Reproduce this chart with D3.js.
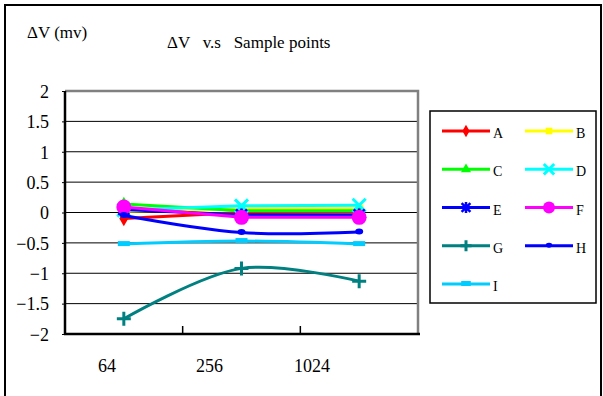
<!DOCTYPE html>
<html>
<head>
<meta charset="utf-8">
<script src="https://cdn.jsdelivr.net/npm/d3@7"></script>
<style>
  body { margin: 0; background: #fff; }
</style>
</head>
<body>
<svg id="canvas"></svg>
<script>
// data
let categories = ['64', '256', '1024']
let seriesNames = ['A', 'B', 'C', 'D', 'E', 'F', 'G', 'H', 'I']
let valA = [-0.10, 0.00, 0.01]
let valB = [0.02, 0.06, 0.06]
let valC = [0.14, 0.03, 0.03]
let valD = [0.04, 0.11, 0.12]
let valE = [0.05, -0.04, -0.04]
let valF = [0.09, -0.08, -0.08]
let valG = [-1.75, -0.92, -1.13]
let valH = [-0.05, -0.33, -0.32]
let valI = [-0.52, -0.47, -0.52]
let yTicks = [-2, -1.5, -1, -0.5, 0, 0.5, 1, 1.5, 2]

let allValues = [valA, valB, valC, valD, valE, valF, valG, valH, valI]
let colors = ['#ff0000', '#ffff00', '#00ff00', '#00ffff', '#0000ff', '#ff00ff', '#008080', '#0000ff', '#00ccff']
let markers = ['diamond', 'square', 'triangle', 'x', 'star', 'circle', 'plus', 'dot', 'dash']
let smooth = [false, false, false, false, false, false, true, true, true]

let serif = '"Liberation Serif", "Times New Roman", serif'
let width = 603
let height = 396
let plot = { left: 65, right: 418, top: 91, bottom: 334 }

let svg = d3.select('#canvas').attr('width', width).attr('height', height)
    .attr('font-family', serif)

// outer chart border
svg.append('rect')
    .attr('x', 5).attr('y', 5)
    .attr('width', 596).attr('height', 400)
    .attr('fill', 'none').attr('stroke', '#000').attr('stroke-width', 2)

let x = d3.scaleBand().domain(categories).range([plot.left, plot.right])
let xc = (c) => x(c) + x.bandwidth() / 2
let labelX = d3.scalePoint().domain(categories).range([107, 312])
let y = d3.scaleLinear().domain([-2, 2]).range([plot.bottom, plot.top])

// gridlines
svg.append('g')
    .selectAll('line')
    .data(yTicks.filter(d => d > -2 && d < 2))
    .enter()
    .append('line')
    .attr('x1', plot.left).attr('x2', plot.right)
    .attr('y1', d => y(d)).attr('y2', d => y(d))
    .attr('stroke', '#000').attr('stroke-width', 1)

// plot frame, grey top and right
svg.append('path')
    .attr('d', `M${plot.left},${plot.top}H${plot.right}V${plot.bottom}`)
    .attr('fill', 'none').attr('stroke', '#808080').attr('stroke-width', 2.5)

// y axis
let yAxis = svg.append('g')
    .attr('transform', `translate(${plot.left},0)`)
    .call(d3.axisLeft(y).tickValues(yTicks).tickSize(3).tickFormat(d3.format('')))
yAxis.attr('font-family', serif).attr('font-size', 18)
yAxis.select('.domain').attr('stroke', '#000').attr('stroke-width', 2.5)
    .attr('d', `M0,${plot.top}V${plot.bottom}`)
yAxis.selectAll('text')
    .attr('x', -16).attr('dy', '0.35em')
    .attr('fill', '#000')

// x axis, ticks between categories pointing up
let xAxis = svg.append('g').attr('transform', `translate(0,${plot.bottom})`)
xAxis.append('line')
    .attr('x1', plot.left - 1).attr('x2', plot.right + 2)
    .attr('y1', 0).attr('y2', 0)
    .attr('stroke', '#000').attr('stroke-width', 2.5)
xAxis.selectAll('.tk')
    .data(categories.slice(1))
    .enter()
    .append('line')
    .attr('x1', d => x(d)).attr('x2', d => x(d))
    .attr('y1', 0).attr('y2', -8)
    .attr('stroke', '#000').attr('stroke-width', 1.5)

svg.append('g')
    .selectAll('text')
    .data(categories)
    .enter()
    .append('text')
    .attr('x', d => labelX(d))
    .attr('y', 372)
    .attr('text-anchor', 'middle')
    .attr('font-size', 18)
    .text(d => d)

// titles
svg.append('text').attr('x', 27).attr('y', 38).attr('font-size', 17).text('ΔV (mv)')
svg.append('text').attr('x', 167).attr('y', 48).attr('font-size', 17)
    .attr('xml:space', 'preserve').style('white-space', 'pre')
    .text('ΔV   v.s   Sample points')

// marker drawing
let drawMarker = (g, type, color, s) => {
    if (type === 'diamond') {
        g.append('path').attr('d', d3.symbol(d3.symbolDiamond, 70 * s * s)).attr('fill', color)
    } else if (type === 'square') {
        g.append('path').attr('d', d3.symbol(d3.symbolSquare, 70 * s * s)).attr('fill', color)
    } else if (type === 'triangle') {
        g.append('path').attr('d', d3.symbol(d3.symbolTriangle, 70 * s * s)).attr('fill', color)
    } else if (type === 'circle') {
        g.append('circle').attr('r', 7.5 * s).attr('fill', color)
    } else if (type === 'x') {
        let r = 6.5 * s
        g.append('path').attr('d', `M${-r},${-r}L${r},${r}M${-r},${r}L${r},${-r}`)
            .attr('stroke', color).attr('stroke-width', 3).attr('fill', 'none')
    } else if (type === 'star') {
        let r = 5.5 * s
        g.append('path').attr('d', `M${-r},${-r}L${r},${r}M${-r},${r}L${r},${-r}M0,${-r - 1}V${r + 1}`)
            .attr('stroke', color).attr('stroke-width', 2.5).attr('fill', 'none')
    } else if (type === 'plus') {
        let r = 7 * s
        g.append('path').attr('d', `M${-r},0H${r}M0,${-r}V${r}`)
            .attr('stroke', color).attr('stroke-width', 3).attr('fill', 'none')
    } else if (type === 'dot') {
        g.append('ellipse').attr('rx', 4 * s).attr('ry', 3 * s).attr('cy', -0.5).attr('fill', color)
    } else if (type === 'dash') {
        g.append('rect').attr('x', -6 * s).attr('y', -3).attr('width', 12 * s).attr('height', 5).attr('fill', color)
    }
}

// series
seriesNames.forEach((name, i) => {
    let pts = categories.map((c, j) => [xc(c), y(allValues[i][j])])
    let line = d3.line().curve(smooth[i] ? d3.curveCatmullRom.alpha(0.5) : d3.curveLinear)
    svg.append('path')
        .attr('d', line(pts))
        .attr('fill', 'none')
        .attr('stroke', colors[i])
        .attr('stroke-width', 3)
        .attr('stroke-linejoin', 'round')
    pts.forEach(p => {
        let g = svg.append('g').attr('transform', `translate(${p[0]},${p[1]})`)
        drawMarker(g, markers[i], colors[i], 1)
    })
})

// legend
let legend = svg.append('g').attr('id', 'legend')
legend.append('rect')
    .attr('x', 430).attr('y', 111).attr('width', 166).attr('height', 192)
    .attr('fill', '#fff').attr('stroke', '#000').attr('stroke-width', 1.5)

let legCol = d3.scaleOrdinal().domain([0, 1]).range([442, 525])
let legRow = d3.scaleLinear().domain([0, 4]).range([131, 284])

seriesNames.forEach((name, i) => {
    let lx = legCol(i % 2)
    let ly = legRow(Math.floor(i / 2))
    let item = legend.append('g').attr('class', 'legend-label')
    item.append('line')
        .attr('x1', lx).attr('x2', lx + 48)
        .attr('y1', ly).attr('y2', ly)
        .attr('stroke', colors[i]).attr('stroke-width', 3)
    drawMarker(item.append('g').attr('transform', `translate(${lx + 24},${ly})`), markers[i], colors[i], 0.8)
    item.append('text')
        .attr('x', lx + 51).attr('y', ly + 7)
        .attr('font-size', 14)
        .text(name)
})
</script>
</body>
</html>
